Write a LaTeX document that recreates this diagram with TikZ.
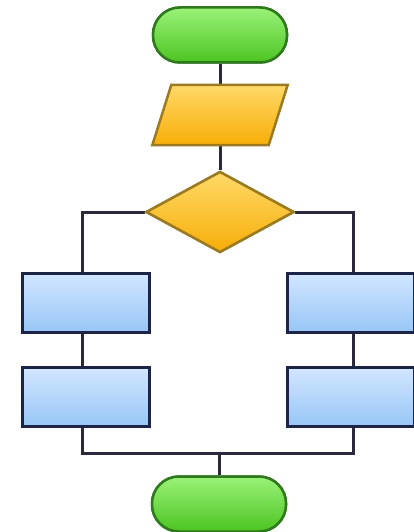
\documentclass[tikz,border=0pt]{standalone}
\usetikzlibrary{shapes.geometric}
\definecolor{lineC}{HTML}{2A2A3C}
\definecolor{grnD}{HTML}{2F7A1C}
\definecolor{grnL}{HTML}{9AF278}
\definecolor{grnM}{HTML}{4CC422}
\definecolor{orgD}{HTML}{9C7A22}
\definecolor{orgL}{HTML}{FFD968}
\definecolor{orgM}{HTML}{F7AE08}
\definecolor{bluD}{HTML}{1C2448}
\definecolor{bluL}{HTML}{D2E6FF}
\definecolor{bluM}{HTML}{98C6F6}
\tikzset{
  conn/.style={draw=lineC, line width=3pt},
  term/.style={draw=grnD, line width=2.5pt, top color=grnL, bottom color=grnM,
    minimum width=134pt, minimum height=55pt, rounded corners=27pt, inner sep=0pt},
  dec/.style={diamond, draw=orgD, line width=2.5pt, top color=orgL, bottom color=orgM,
    minimum width=148pt, minimum height=81pt, inner sep=0pt},
  iobox/.style={minimum width=135pt, minimum height=60pt, inner sep=0pt},
  proc/.style={draw=bluD, line width=3pt, top color=bluL, bottom color=bluM,
    minimum width=127pt, minimum height=59pt, inner sep=0pt},
}
\begin{document}
\begin{tikzpicture}[x=1pt,y=-1pt]
\useasboundingbox[fill=white] (0,0) rectangle (414,532);
\node[term] (start) at (220,35) {};
\node[iobox] (io) at (220,115) {};
\node[dec] (dec) at (220,212) {};
\node[proc] (l1) at (86,302.5) {};
\node[proc] (l2) at (86,397) {};
\node[proc] (r1) at (350.5,302.5) {};
\node[proc] (r2) at (350.5,397) {};
\node[term] (end) at (219,504) {};
\coordinate (jm) at (219,453);
% connectors
\path[conn] (start.south) -- (start.south |- io.north);
\path[conn] (io.south) -- (dec.north);
\path[conn] (dec.west) -| ([xshift=-4pt]l1.north);
\path[conn] (dec.east) -| ([xshift=2.5pt]r1.north);
\path[conn] ([xshift=-4pt]l1.south) -- ([xshift=-4pt]l2.north);
\path[conn] ([xshift=2.5pt]r1.south) -- ([xshift=2.5pt]r2.north);
\path[conn] ([xshift=-4pt]l2.south) |- (jm) -| ([xshift=2.5pt]r2.south);
\path[conn] (jm) -- (end.north);
% redraw shapes on top of the connectors
\node[term] at (start) {};
\node[dec] at (dec) {};
\node[proc] at (l1) {};
\node[proc] at (l2) {};
\node[proc] at (r1) {};
\node[proc] at (r2) {};
\node[term] at (end) {};
\path[draw=orgD, line width=2.5pt, top color=orgL, bottom color=orgM]
  ([xshift=19pt]io.north west) -- (io.north east) -- ([xshift=-19pt]io.south east) -- (io.south west) -- cycle;
\end{tikzpicture}
\end{document}
